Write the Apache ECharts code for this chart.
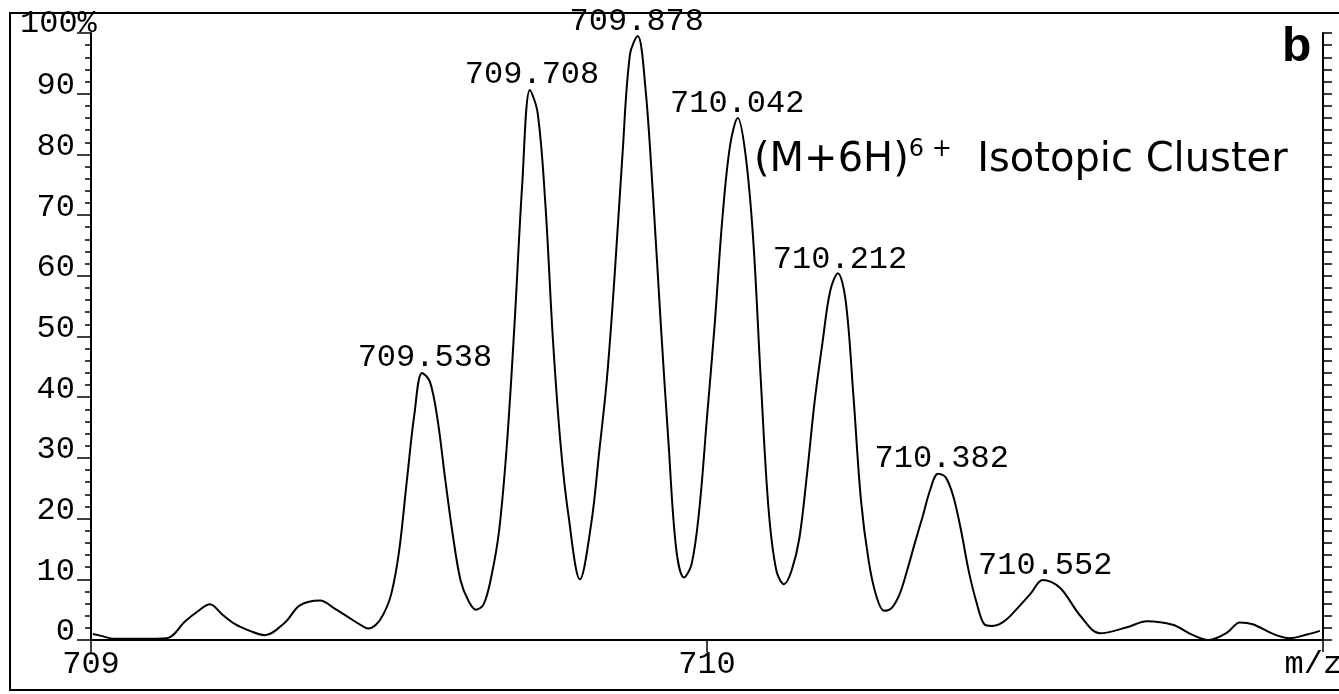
<!DOCTYPE html>
<html>
<head>
<meta charset="utf-8">
<script src="https://cdn.jsdelivr.net/npm/echarts@6/dist/echarts.min.js"></script>
<style>
html, body { margin: 0; padding: 0; background: #fff; }
#chart { width: 1339px; height: 694px; }
</style>
</head>
<body>
<div id="chart"></div>
<script>
// profile trace: m/z and relative intensity (%)
const mzValues = [
    709.003, 709.020, 709.036, 709.080, 709.123, 709.153, 709.173, 709.193, 709.213, 709.234,
    709.258, 709.282, 709.315, 709.339, 709.372, 709.395, 709.420, 709.4375,
    709.450, 709.4625, 709.475, 709.4875, 709.500, 709.5125, 709.525, 709.5375,
    709.550, 709.5625, 709.575, 709.5875, 709.600, 709.6125, 709.625, 709.6375,
    709.650, 709.6625, 709.675, 709.6875, 709.700, 709.7125, 709.725, 709.7375,
    709.750, 709.7625, 709.775, 709.7937, 709.8125, 709.825, 709.8375,
    709.850, 709.8625, 709.875, 709.8875, 709.900, 709.9125, 709.925, 709.9375,
    709.950, 709.9625, 709.975, 709.9875, 710.000, 710.0125, 710.025, 710.0375,
    710.050, 710.0625, 710.075, 710.0875, 710.100, 710.1125, 710.125, 710.1375,
    710.150, 710.1625, 710.175, 710.1875, 710.200, 710.2125, 710.225, 710.2375,
    710.250, 710.2625, 710.275, 710.2875, 710.300, 710.3125, 710.325, 710.3375,
    710.350, 710.3625, 710.375, 710.3875, 710.400, 710.4125, 710.425, 710.4375,
    710.450, 710.4625, 710.475, 710.4875, 710.500, 710.525, 710.545, 710.573,
    710.606, 710.638, 710.682, 710.714, 710.756, 710.789, 710.813, 710.844,
    710.865, 710.886, 710.919, 710.946, 710.974, 710.995
];
const intensity = [
    1.0, 0.6, 0.2, 0.2, 0.3, 3.1, 4.7, 5.9, 4.2, 2.6,
    1.5, 0.8, 2.9, 5.7, 6.5, 5.2, 3.6, 2.5,
    1.9, 2.5, 4.3, 7.6, 14.5, 26.0, 37.2, 44.0,
    42.6, 36.4, 26.5, 17.2, 9.8, 6.5, 5.0, 5.9,
    10.5, 18.0, 32.0, 52.0, 75.0, 90.6, 86.9, 72.0,
    49.3, 32.0, 20.6, 10.0, 19.5, 31.0, 43.0,
    60.0, 79.5, 96.5, 99.5, 91.0, 73.0, 52.0, 32.5,
    15.0, 10.3, 12.5, 21.5, 36.7, 52.0, 69.5, 81.5,
    86.0, 80.0, 66.0, 42.5, 21.5, 11.5, 9.2, 11.5,
    16.8, 27.5, 39.5, 49.0, 57.5, 60.4, 56.0, 40.5,
    23.0, 13.0, 7.2, 4.8, 5.3, 7.5, 11.5, 16.0,
    20.3, 24.8, 27.4, 26.8, 23.6, 18.0, 11.3, 6.2,
    2.6, 2.3, 2.6, 3.5, 4.8, 7.6, 9.9, 8.6,
    4.0, 1.1, 2.1, 3.1, 2.5, 0.8, 0.0, 1.2,
    2.9, 2.6, 1.0, 0.3, 0.9, 1.5
];

// peak annotations
const peakLabels = ['709.538', '709.708', '709.878', '710.042', '710.212', '710.382', '710.552'];
const peakMz = [709.542, 709.716, 709.886, 710.049, 710.216, 710.381, 710.549];
const peakHeights = [44.2, 90.8, 99.6, 86.0, 60.4, 27.6, 9.9];

const xTickValues = [709, 710, 711];
const xTickLabels = ['709', '710', 'm/z '];

const MONO = "'Liberation Mono', 'DejaVu Sans Mono', monospace";

const chart = echarts.init(document.getElementById('chart'), null, { renderer: 'canvas' });

const trace = mzValues.map((mz, i) => [mz, intensity[i]]);
const peaks = peakMz.map((mz, i) => [mz, peakHeights[i]]);

const yAxisBase = {
    type: 'value',
    min: 0,
    max: 100,
    interval: 10,
    splitLine: { show: false },
    axisLine: { show: true, lineStyle: { color: '#000', width: 2 } }
};

chart.setOption({
    animation: false,
    backgroundColor: '#fff',
    grid: { left: 91, right: 16, top: 33, bottom: 54, containLabel: false, outerBoundsMode: 'none' },
    xAxis: {
        type: 'value',
        min: 709,
        max: 711,
        interval: 1,
        splitLine: { show: false },
        axisLine: { onZero: false, lineStyle: { color: '#000', width: 2 } },
        axisTick: { show: true, length: 12, lineStyle: { color: '#000', width: 1.5 } },
        axisLabel: {
            margin: 9,
            color: '#000',
            fontFamily: MONO,
            fontSize: 32,
            showMinLabel: true,
            showMaxLabel: true,
            formatter: v => {
                const i = xTickValues.indexOf(Math.round(v));
                return i >= 0 ? xTickLabels[i] : '';
            }
        }
    },
    yAxis: [
        Object.assign({}, yAxisBase, {
            position: 'left',
            axisTick: { show: true, length: 14, lineStyle: { color: '#000', width: 1.5 } },
            minorTick: { show: true, splitNumber: 5, length: 6, lineStyle: { color: '#000', width: 1.5 } },
            axisLabel: {
                margin: 16,
                color: '#000',
                fontFamily: MONO,
                fontSize: 32,
                lineHeight: 16,
                verticalAlign: 'bottom',
                formatter: v => (v === 100 ? '' : String(v))
            }
        }),
        Object.assign({}, yAxisBase, {
            position: 'right',
            axisTick: { show: true, length: 9, lineStyle: { color: '#000', width: 1.5 } },
            minorTick: { show: true, splitNumber: 5, length: 9, lineStyle: { color: '#000', width: 1.5 } },
            axisLabel: { show: false }
        })
    ],
    series: [
        {
            type: 'line',
            data: trace,
            smooth: 0.35,
            showSymbol: false,
            silent: true,
            lineStyle: { color: '#000', width: 2 },
            z: 3
        },
        {
            type: 'scatter',
            data: peaks,
            symbolSize: 0,
            silent: true,
            itemStyle: { color: '#000', opacity: 1 },
            label: {
                show: true,
                position: 'top',
                distance: -2,
                color: '#000',
                opacity: 1,
                fontFamily: MONO,
                fontSize: 32,
                formatter: p => peakLabels[p.dataIndex]
            },
            z: 4
        }
    ],
    graphic: [
        {
            type: 'rect',
            shape: { x: 10, y: 13, width: 1345, height: 677 },
            style: { fill: 'none', stroke: '#000', lineWidth: 2 },
            silent: true
        },
        {
            type: 'text',
            x: 20,
            y: 40,
            style: {
                text: '100%',
                fill: '#000',
                font: "32px 'Liberation Mono', monospace",
                textVerticalAlign: 'bottom'
            },
            silent: true
        },
        {
            type: 'text',
            x: 1282,
            y: 24,
            style: {
                text: 'b',
                fill: '#000',
                font: "bold 48px 'Liberation Sans', Arial, sans-serif",
                textVerticalAlign: 'top'
            },
            silent: true
        },
        {
            type: 'text',
            x: 754,
            y: 138,
            style: {
                text: '{a|(M+6H)}{s|6 +}{a|  Isotopic Cluster}',
                rich: {
                    a: { fontFamily: 'DejaVu Sans', fontSize: 40, fill: '#000', lineHeight: 46 },
                    s: { fontFamily: 'DejaVu Sans', fontSize: 24, fill: '#000', lineHeight: 24, verticalAlign: 'top' }
                }
            },
            silent: true
        }
    ]
});
</script>
</body>
</html>
